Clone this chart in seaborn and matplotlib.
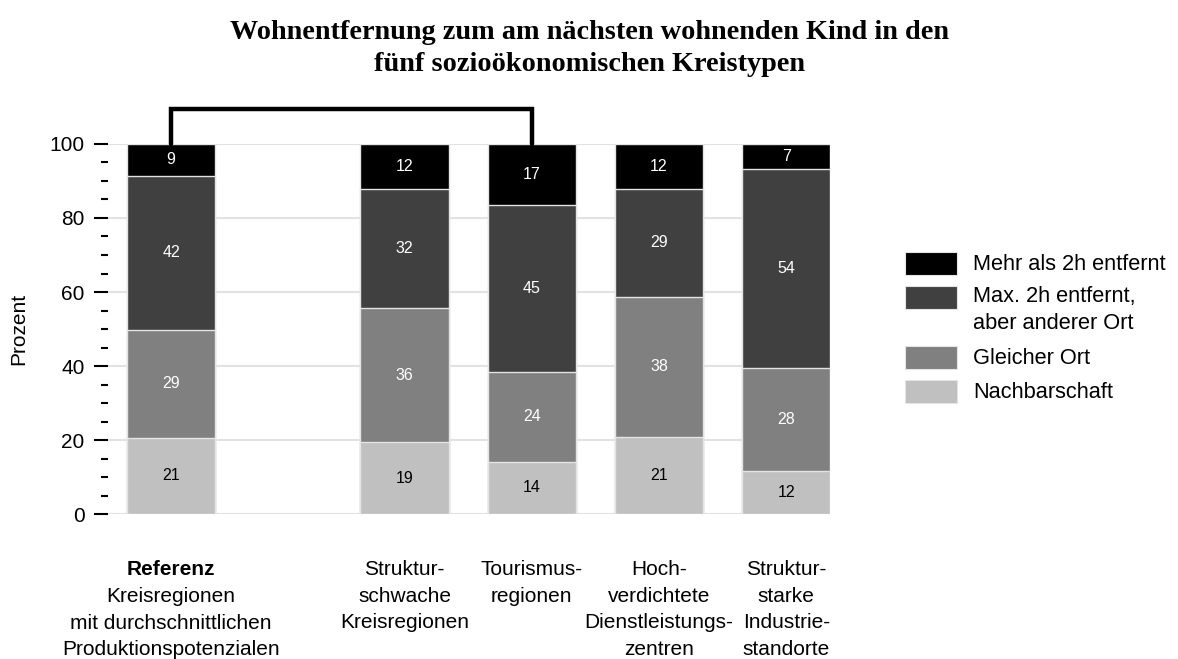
import numpy as np
import pandas as pd
import matplotlib
matplotlib.use("Agg")
import matplotlib.pyplot as plt
import matplotlib.transforms as mtransforms
from matplotlib.patches import Rectangle
import seaborn as sns

# data (percent)
categories = ["Referenz", "Strukturschwache", "Tourismusregionen",
              "Hochverdichtete", "Strukturstarke"]
tick_labels = [
    "Kreisregionen\nmit durchschnittlichen\nProduktionspotenzialen",
    "Struktur-\nschwache\nKreisregionen",
    "Tourismus-\nregionen",
    "Hoch-\nverdichtete\nDienstleistungs-\nzentren",
    "Struktur-\nstarke\nIndustrie-\nstandorte",
]
nachbarschaft = [20.6, 19.4, 14.1, 20.9, 11.6]
gleicher_ort = [29.1, 36.2, 24.4, 37.8, 27.8]
max_2h = [41.7, 32.3, 44.9, 29.2, 53.8]
mehr_2h = [8.6, 12.1, 16.6, 12.1, 6.8]

series_names = ["Nachbarschaft", "Gleicher Ort",
                "Max. 2h entfernt,\naber anderer Ort", "Mehr als 2h entfernt"]
series_values = [nachbarschaft, gleicher_ort, max_2h, mehr_2h]
series_colors = ["#c0c0c0", "#808080", "#404040", "#000000"]
label_colors = ["black", "white", "white", "white"]

# bar slots: reference bar set apart from the four region types
positions = [0.0, 1.835, 2.835, 3.835, 4.835]

sns.set_style("white")
plt.rcParams["font.family"] = ["Liberation Sans", "DejaVu Sans"]
plt.rcParams["text.color"] = "black"
plt.rcParams["axes.labelcolor"] = "black"
plt.rcParams["ytick.color"] = "black"
plt.rcParams["xtick.color"] = "black"

fig = plt.figure(figsize=(11.78, 6.59), dpi=100)
ax = fig.add_axes([0.0917, 0.22, 0.613, 0.5615])

vals = np.array(series_values)
cum = vals.cumsum(axis=0)

# draw cumulative totals from the top layer down so lower segments overlay
for i in range(len(series_names) - 1, -1, -1):
    layer = pd.DataFrame({"pos": positions, "top": cum[i]})
    sns.barplot(data=layer, x="pos", y="top", native_scale=True,
                color=series_colors[i], saturation=1, width=0.693,
                errorbar=None, edgecolor="#e4e4e4", linewidth=1.0,
                zorder=2, ax=ax)

for i in range(len(series_names)):
    bottoms = cum[i] - vals[i]
    for x, b, v in zip(positions, bottoms, vals[i]):
        ax.text(x, b + v / 2, f"{v:.0f}", ha="center", va="center",
                fontsize=11.5, color=label_colors[i], zorder=4)

ax.set_xlim(-0.496, 5.18)
ax.set_ylim(0, 100)
ax.set_yticks(np.arange(0, 101, 20))
ax.set_yticks(np.arange(0, 101, 5), minor=True)
ax.tick_params(axis="y", which="major", length=10, width=1.5, pad=7,
               labelsize=15, left=True)
ax.tick_params(axis="y", which="minor", length=5, width=1.5, left=True)
ax.set_xticks(positions, [""] * len(positions))
ax.tick_params(axis="x", length=0)
ax.yaxis.grid(True, color="#e2e2e2", linewidth=1.5, zorder=0)
ax.set_axisbelow(True)
for s in ax.spines.values():
    s.set_visible(False)
ax.set_xlabel("")
ax.set_ylabel("Prozent", fontsize=15, labelpad=15)

# category labels under the bars, bold "Referenz" on top of the first one
trans = mtransforms.blended_transform_factory(ax.transData, ax.transAxes)
ax.annotate("Referenz", xy=(positions[0], 0), xycoords=trans,
            xytext=(0, -33), textcoords="offset points", ha="center",
            va="top", fontsize=15, fontweight="bold", annotation_clip=False)
for i, (x, lab) in enumerate(zip(positions, tick_labels)):
    off = -52.4 if i == 0 else -33
    ax.annotate(lab, xy=(x, 0), xycoords=trans, xytext=(0, off),
                textcoords="offset points", ha="center", va="top",
                fontsize=15, linespacing=1.52, annotation_clip=False)

# bracket linking reference and tourism regions
ax.plot([positions[0], positions[0], positions[2], positions[2]],
        [100, 109.5, 109.5, 100], color="black", lw=3.2,
        solid_joinstyle="miter", clip_on=False, zorder=5)

fig.suptitle("Wohnentfernung zum am nächsten wohnenden Kind in den\n"
             "fünf sozioökonomischen Kreistypen",
             x=0.5, y=0.970, fontsize=20.3, fontweight="bold",
             family="Liberation Serif", linespacing=1.38)

# legend, top entry first: (series index, patch centre, text centre) in px
legend_rows = [(3, 263, 265), (2, 297, 310), (1, 357, 359), (0, 391, 392)]
H = 659.0
for idx, py, ty in legend_rows:
    fig.patches.append(Rectangle((0.7685, 1 - (py + 11.5) / H), 0.0441,
                                 23 / H, transform=fig.transFigure,
                                 facecolor=series_colors[idx],
                                 edgecolor="#e4e4e4", lw=0.8))
    fig.text(0.826, 1 - ty / H, series_names[idx], ha="left",
             va="center", fontsize=15.7, linespacing=1.4)

fig.savefig("out.png", dpi=100)
